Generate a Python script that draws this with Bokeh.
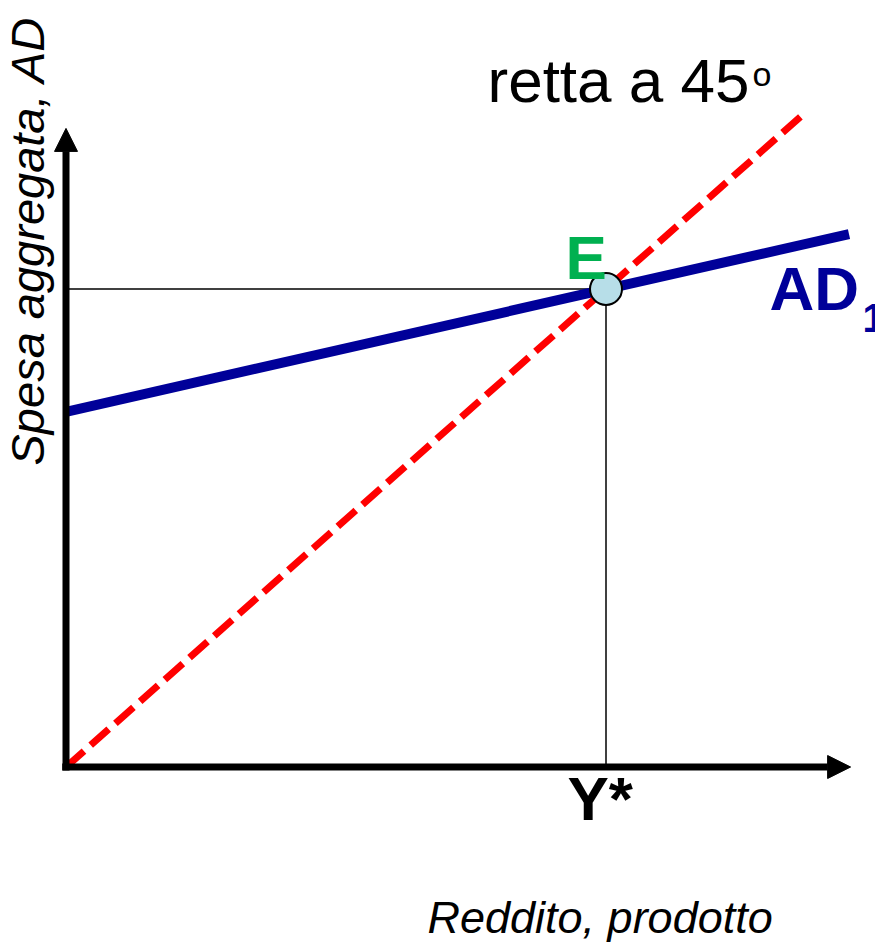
import math
from bokeh.plotting import figure
from bokeh.models import Range1d, Label, Arrow, NormalHead
from bokeh.embed import file_html
from bokeh.resources import INLINE

# ---- data (diagram units; equilibrium income Y* = 100) ----
line45_x = [0, 136]
line45_y = [0, 136]
ad_x = [0, 145]
ad_y = [74.3, 111.5]
eq_x = [100]
eq_y = [100]
x_axis_end = 145.3
y_axis_end = 133.6

# page-pixel -> data helpers (for label placement only)
OX, OY = 65.5, 766.5
SX, SY = 5.4, 4.78
def dx(px):
    return (px - OX) / SX
def dy(py):
    return (OY - py) / SY

W, H = 875, 944
p = figure(width=W, height=H, output_backend="svg", toolbar_location=None,
           x_range=Range1d(dx(0), dx(W)), y_range=Range1d(dy(H), dy(0)),
           min_border=0, background_fill_color="white", border_fill_color="white")
p.axis.visible = False
p.grid.visible = False
p.outline_line_color = None

# axes with arrows
p.add_layout(Arrow(end=NormalHead(size=23, fill_color="black", line_color="black", line_width=1),
                   x_start=0, y_start=-0.75, x_end=0, y_end=y_axis_end,
                   line_width=7, line_color="black"))
p.add_layout(Arrow(end=NormalHead(size=23, fill_color="black", line_color="black", line_width=1),
                   x_start=-0.7, y_start=0, x_end=x_axis_end, y_end=0,
                   line_width=7, line_color="black"))

# guide lines to equilibrium
p.segment(x0=[0, eq_x[0]], y0=[eq_y[0], 0], x1=[eq_x[0], eq_x[0]], y1=[eq_y[0], eq_y[0]],
          line_color="black", line_width=1.5)

# AD line
p.line(ad_x, ad_y, line_color="#000099", line_width=10)
# 45-degree line
p.line(line45_x, line45_y, line_color="#FF0000", line_width=7, line_dash="24 9")
# equilibrium point
p.scatter(eq_x, eq_y, size=32, marker="circle", fill_color="#B7DEE8",
          line_color="black", line_width=2)

FONT = "Liberation Sans"
SHIFT = 0.38  # empirical baseline correction (em)
def lab(text, px, py, size, color="black", style="normal", angle=0.0):
    if angle:
        x, y = dx(px - SHIFT * size), dy(py)
    else:
        x, y = dx(px), dy(py - SHIFT * size)
    p.add_layout(Label(x=x, y=y, text=text, text_font=FONT,
                       text_font_size=f"{size}px", text_color=color,
                       text_font_style=style, text_align="left",
                       text_baseline="alphabetic", angle=angle))

lab("retta a 45", 487, 104, 62)
lab("o", 752, 86, 34)
lab("E", 565, 281, 62, color="#00B050", style="bold")
lab("AD", 769, 312, 62, color="#000099", style="bold")
lab("1", 862, 333, 40, color="#000099", style="bold")
lab("Y*", 567, 822, 62, style="bold")
lab("Reddito, prodotto", 427, 934, 45, style="italic")
lab("Spesa aggregata, AD", 45, 465, 47, style="italic", angle=math.pi / 2)

open("out.html", "w").write(file_html(p, INLINE))
